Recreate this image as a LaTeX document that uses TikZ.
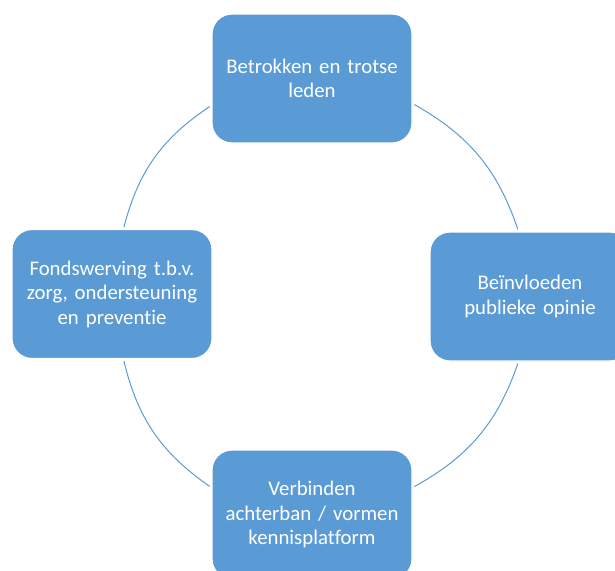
\documentclass[tikz,border=0pt]{standalone}
\usepackage{fontspec}
\setmainfont{Carlito}[Ligatures=NoCommon]
\usepackage{xcolor}
\definecolor{officeblue}{HTML}{5B9BD5}

\begin{document}
\begin{tikzpicture}[x=0.5pt, y=0.5pt,
    goalbox/.style={rectangle, rounded corners=10pt, fill=officeblue, draw=white, line width=0.6pt,
      minimum width=100pt, minimum height=64.5pt, text width=90pt, inner sep=0pt,
      align=center, text=white, font=\fontsize{10.4}{12.25}\selectfont},
    ring/.style={draw=officeblue, line width=0.5pt, shorten <=1pt, shorten >=1pt}]
  \clip (0,0) rectangle (615,570);

  % Boxes round the cycle
  \node[goalbox] (leden) at (312,491.5) {Betrokken en trotse\\leden};
  \node[goalbox] (opinie) at (530,273.5) {Beïnvloeden\\publieke opinie};
  \node[goalbox] (platform) at (312,55.5) {Verbinden\\achterban / vormen\\kennisplatform};
  \node[goalbox] (fondsen) at (112,276) {Fondswerving t.b.v.\\zorg, ondersteuning\\en preventie};

  % Arcs between the boxes
  \draw[ring] (leden.-14) to[bend left=21] (opinie.100);
  \draw[ring] (opinie.-100) to[bend left=21] (platform.15);
  \draw[ring] (platform.165) to[bend left=21] (fondsen.-80);
  \draw[ring] (fondsen.80) to[bend left=21] (leden.195);
\end{tikzpicture}
\end{document}
